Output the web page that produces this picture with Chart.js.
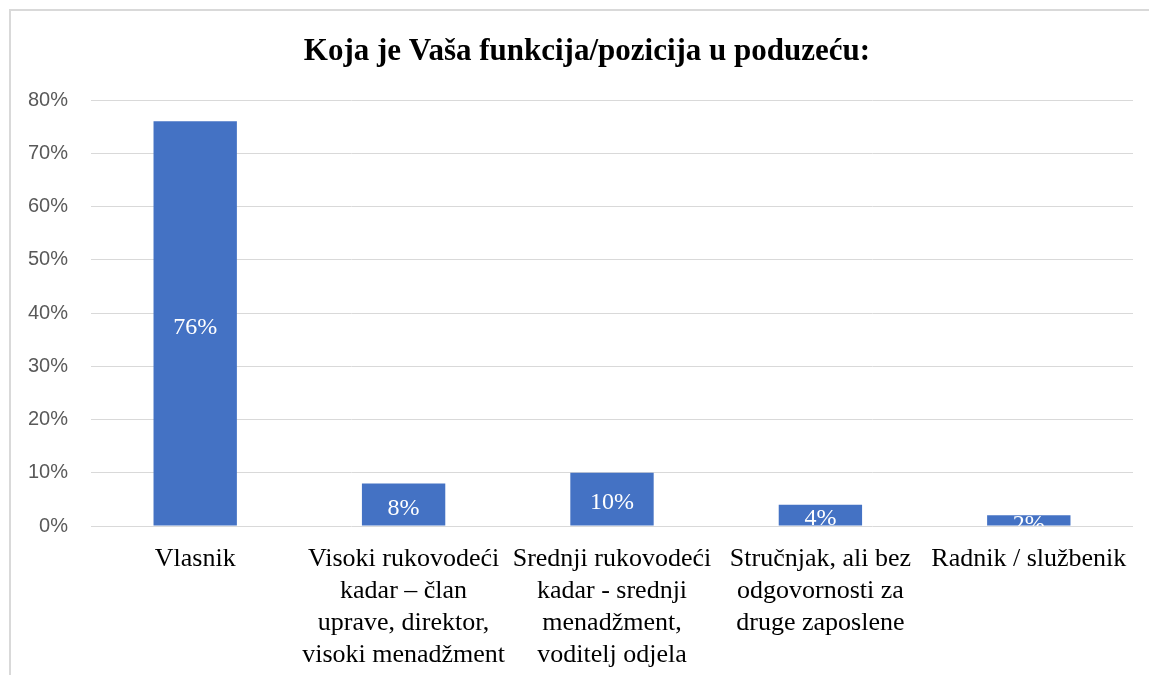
<!DOCTYPE html>
<html>
<head>
<meta charset="utf-8">
<title>Koja je Vaša funkcija/pozicija u poduzeću:</title>
<script src="https://cdn.jsdelivr.net/npm/chart.js@4/dist/chart.umd.min.js"></script>
<style>
    html, body { margin: 0; padding: 0; background: #ffffff; overflow: hidden; }
    #wrap { position: relative; width: 1149px; height: 675px; }
</style>
</head>
<body>
<div id="wrap"><canvas id="chart" width="1149" height="675"></canvas></div>
<script>
"use strict";

// Data
var titleText = "Koja je Vaša funkcija/pozicija u poduzeću:";
var categories = [
    "Vlasnik",
    ["Visoki rukovodeći", "kadar – član", "uprave, direktor,", "visoki menadžment"],
    ["Srednji rukovodeći", "kadar - srednji", "menadžment,", "voditelj odjela"],
    ["Stručnjak, ali bez", "odgovornosti za", "druge zaposlene"],
    "Radnik / službenik"
];
var shares = [76, 8, 10, 4, 2];
var yTicks = [0, 10, 20, 30, 40, 50, 60, 70, 80];

var barColor = "#4472C4";
var gridColor = "#d9d9d9";

// Frame (left + top edges, rest is cropped) and title
var framePlugin = {
    id: "frame",
    beforeDraw: function (chart) {
        var ctx = chart.ctx;
        ctx.save();
        ctx.strokeStyle = gridColor;
        ctx.lineWidth = 2;
        ctx.beginPath();
        ctx.moveTo(10, 675);
        ctx.lineTo(10, 10);
        ctx.lineTo(1149, 10);
        ctx.stroke();
        ctx.fillStyle = "#000000";
        ctx.font = "bold 31px 'Liberation Serif', 'Times New Roman', serif";
        ctx.textAlign = "center";
        ctx.textBaseline = "alphabetic";
        ctx.fillText(titleText, 587, 60);
        ctx.restore();
    }
};

// Value labels centred in the bars, clipped to the plot area
var valueLabels = {
    id: "valueLabels",
    afterDatasetsDraw: function (chart) {
        var ctx = chart.ctx;
        var area = chart.chartArea;
        var meta = chart.getDatasetMeta(0);
        ctx.save();
        ctx.beginPath();
        ctx.rect(area.left, area.top, area.right - area.left, area.bottom - area.top);
        ctx.clip();
        ctx.fillStyle = "#ffffff";
        ctx.font = "24px 'Liberation Serif', 'Times New Roman', serif";
        ctx.textAlign = "center";
        ctx.textBaseline = "middle";
        meta.data.forEach(function (bar, i) {
            var cy = (bar.y + bar.base) / 2;
            ctx.fillText(shares[i] + "%", bar.x, cy + 4);
        });
        ctx.restore();
    }
};

new Chart(document.getElementById("chart"), {
    type: "bar",
    data: {
        labels: categories,
        datasets: [{
            data: shares,
            backgroundColor: barColor,
            borderWidth: 0,
            barPercentage: 0.4,
            categoryPercentage: 1
        }]
    },
    options: {
        responsive: false,
        animation: false,
        devicePixelRatio: 1,
        layout: { padding: { top: 100, right: 16, left: 0, bottom: 0 } },
        plugins: {
            legend: { display: false },
            title: { display: false },
            tooltip: { enabled: false }
        },
        scales: {
            x: {
                grid: { display: false },
                border: { display: false },
                ticks: {
                    color: "#000000",
                    font: { family: "'Liberation Serif', 'Times New Roman', serif", size: 26, lineHeight: 1.23 },
                    padding: 9,
                    maxRotation: 0,
                    minRotation: 0,
                    autoSkip: false
                },
                afterFit: function (scale) { scale.height = 675 - 526; }
            },
            y: {
                min: 0,
                max: 80,
                afterBuildTicks: function (scale) {
                    scale.ticks = yTicks.map(function (v) { return { value: v }; });
                },
                grid: { color: gridColor, lineWidth: 1, drawTicks: false },
                border: { display: false },
                ticks: {
                    color: "#595959",
                    font: { family: "'Liberation Sans', Arial, sans-serif", size: 20 },
                    padding: 23,
                    callback: function (v) { return v + "%"; }
                },
                afterFit: function (scale) { scale.width = 91; }
            }
        }
    },
    plugins: [framePlugin, valueLabels]
});
</script>
</body>
</html>
